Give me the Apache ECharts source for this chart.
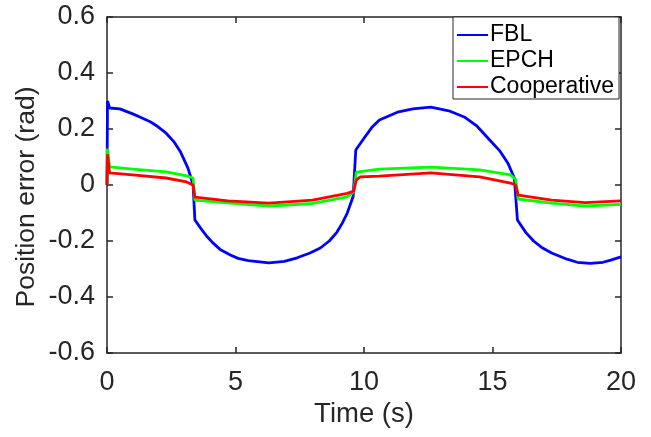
<!DOCTYPE html>
<html>
    <head>
        <meta charset="utf-8">
        <script src="https://cdn.jsdelivr.net/npm/echarts@6/dist/echarts.min.js"></script>
        <style>
            html, body { margin: 0; padding: 0; background: #fff; }
            #main { width: 651px; height: 437px; }
        </style>
    </head>
    <body>
        <div id="main"></div>
        <script>
            // values
            var fblTime = [0, 0.02, 0.1, 0.5, 1.0, 1.3, 1.7, 2.0, 2.3, 2.6, 2.85, 3.15, 3.35, 3.42, 3.65, 3.9, 4.1, 4.4,
                4.8, 5.1, 5.5, 6.3, 6.9, 7.4, 7.9, 8.3, 8.65, 8.95, 9.15, 9.35, 9.58, 9.68, 10.0, 10.3, 10.6, 11.3,
                11.9, 12.6, 13.3, 13.9, 14.4, 14.9, 15.3, 15.6, 15.85, 15.97, 16.3, 16.6, 16.9, 17.3, 17.9, 18.3,
                18.8, 19.3, 19.6, 20];
            var fblValue = [0, 0.30, 0.275, 0.272, 0.254, 0.242, 0.225, 0.207, 0.185, 0.155, 0.12, 0.06, 0.0, -0.125,
                -0.155, -0.185, -0.205, -0.23, -0.25, -0.262, -0.27, -0.278, -0.273, -0.26, -0.243, -0.225, -0.2,
                -0.168, -0.137, -0.1, -0.04, 0.125, 0.167, 0.205, 0.232, 0.26, 0.272, 0.278, 0.265, 0.243, 0.21,
                0.16, 0.12, 0.078, 0.025, -0.125, -0.17, -0.2, -0.222, -0.243, -0.265, -0.276, -0.28, -0.276,
                -0.268, -0.257];

            var epchTime = [0, 0.02, 0.1, 1.0, 2.3, 3.1, 3.35, 3.42, 4.8, 6.3, 8.0, 9.35, 9.6, 9.7, 10.6, 12.6,
                14.5, 15.7, 15.9, 16.0, 17.3, 18.6, 20];
            var epchValue = [0, 0.13, 0.065, 0.057, 0.047, 0.033, 0.025, -0.054, -0.065, -0.075, -0.066, -0.042,
                -0.025, 0.046, 0.057, 0.064, 0.054, 0.036, 0.02, -0.05, -0.065, -0.075, -0.069];

            var coopTime = [0, 0.02, 0.1, 1.0, 2.3, 3.1, 3.35, 3.42, 4.7, 6.3, 8.0, 9.35, 9.6, 9.7, 9.86, 10.6,
                12.6, 14.5, 15.7, 15.9, 16.0, 17.3, 18.6, 20];
            var coopValue = [0, 0.11, 0.043, 0.036, 0.025, 0.011, 0.0, -0.043, -0.057, -0.065, -0.054, -0.03,
                -0.022, 0.018, 0.029, 0.032, 0.043, 0.029, 0.007, 0.0, -0.036, -0.054, -0.063, -0.057];

            var seriesNames = ['FBL', 'EPCH', 'Cooperative'];
            var seriesColors = ['#0000ff', '#00ff00', '#ff0000'];

            function pairs(xs, ys) {
                var out = [];
                for (var i = 0; i < xs.length; i++) {
                    out.push([xs[i], ys[i]]);
                }
                return out;
            }

            var chart = echarts.init(document.getElementById('main'));
            var textColor = '#262626';
            var font = 'Liberation Sans, Arial, Helvetica, sans-serif';

            var baseAxisLine = {onZero: false, lineStyle: {color: textColor, width: 1.5}};
            var tick = {inside: true, length: 6, lineStyle: {color: textColor, width: 1.5}};

            chart.setOption({
                animation: false,
                backgroundColor: '#fff',
                color: seriesColors,
                grid: {left: 107, right: 30, top: 17, bottom: 84},
                legend: {
                    data: seriesNames,
                    orient: 'vertical',
                    left: 453,
                    top: 17,
                    icon: 'rect',
                    padding: [6, 5, 0, 4],
                    itemGap: 2,
                    itemWidth: 31,
                    itemHeight: 2,
                    backgroundColor: '#fff',
                    borderColor: textColor,
                    borderWidth: 1,
                    textStyle: {color: '#000', fontSize: 23, lineHeight: 24, fontFamily: font, padding: [0, 0, 0, -3]}
                },
                graphic: [{
                    type: 'text',
                    x: 27,
                    y: 197,
                    rotation: Math.PI / 2,
                    style: {
                        text: 'Position error (rad)',
                        fill: textColor,
                        fontSize: 26.5,
                        fontFamily: font,
                        align: 'center',
                        verticalAlign: 'middle'
                    }
                }],
                xAxis: [{
                    type: 'value',
                    min: 0,
                    max: 20,
                    interval: 5,
                    name: 'Time (s)',
                    nameLocation: 'middle',
                    nameGap: 44,
                    nameTextStyle: {color: textColor, fontSize: 27.5, fontFamily: font},
                    axisLine: baseAxisLine,
                    axisTick: tick,
                    axisLabel: {color: textColor, fontSize: 27, fontFamily: font, margin: 16},
                    splitLine: {show: false}
                }, {
                    type: 'value',
                    position: 'top',
                    min: 0,
                    max: 20,
                    interval: 5,
                    axisLine: baseAxisLine,
                    axisTick: tick,
                    axisLabel: {show: false},
                    splitLine: {show: false}
                }],
                yAxis: [{
                    type: 'value',
                    min: -0.6,
                    max: 0.6,
                    interval: 0.2,
                    axisLine: baseAxisLine,
                    axisTick: tick,
                    axisLabel: {color: textColor, fontSize: 27, fontFamily: font, margin: 12},
                    splitLine: {show: false}
                }, {
                    type: 'value',
                    position: 'right',
                    min: -0.6,
                    max: 0.6,
                    interval: 0.2,
                    axisLine: baseAxisLine,
                    axisTick: tick,
                    axisLabel: {show: false},
                    splitLine: {show: false}
                }],
                series: [{
                    name: seriesNames[0],
                    type: 'line',
                    symbol: 'none',
                    lineStyle: {width: 2.8},
                    data: pairs(fblTime, fblValue)
                }, {
                    name: seriesNames[1],
                    type: 'line',
                    symbol: 'none',
                    lineStyle: {width: 2.8},
                    data: pairs(epchTime, epchValue)
                }, {
                    name: seriesNames[2],
                    type: 'line',
                    symbol: 'none',
                    lineStyle: {width: 2.8},
                    data: pairs(coopTime, coopValue)
                }]
            });
        </script>
    </body>
</html>
